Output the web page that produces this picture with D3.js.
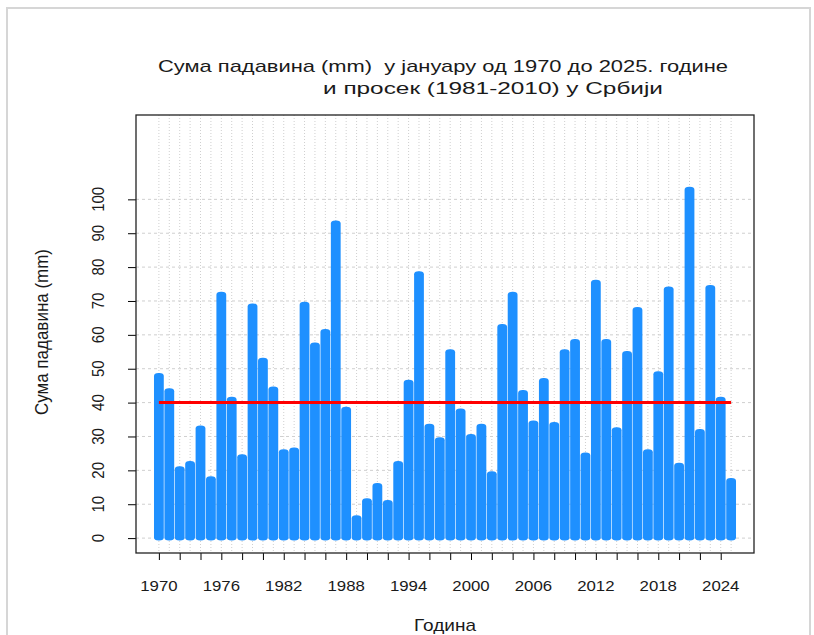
<!DOCTYPE html>
<html>
<head>
<meta charset="utf-8">
<script src="https://cdn.jsdelivr.net/npm/d3@7"></script>
<style>
  body { margin: 0; background: #fff; }
  text { font-family: "Liberation Sans", Arial, sans-serif; fill: #1a1a1a; }
</style>
</head>
<body>
<div id="chart"></div>
<script>
// January precipitation in Serbia, 1970-2025 (mm)
var years = d3.range(1970, 2026);
var precip = [
    48, 43.5, 20.5, 22, 32.5, 17.5, 72, 41, 24, 68.5,
    52.5, 44, 25.5, 26, 69, 57, 61, 93, 38, 6,
    11, 15.5, 10.5, 22, 46, 78, 33, 29, 55, 37.5,
    30, 33, 19, 62.5, 72, 43, 34, 46.5, 33.5, 55,
    58, 24.5, 75.5, 58, 32, 54.5, 67.5, 25.5, 48.5, 73.5,
    21.5, 103, 31.5, 74, 41, 17
];
var average = 40;
var xTicks = d3.range(1970, 2026, 2);
var xLabels = d3.range(1970, 2025, 6);
var yTicks = d3.range(0, 101, 10);

var width = 814,
    height = 635,
    plotLeft = 136,
    plotRight = 754,
    plotTop = 115,
    plotBottom = 553;

var svg = d3.select("#chart")
    .append("svg")
    .attr("width", width)
    .attr("height", height);

// outer frame
svg.append("rect")
    .attr("x", 7)
    .attr("y", 8)
    .attr("width", 803)
    .attr("height", 700)
    .attr("fill", "none")
    .attr("stroke", "#d6d6d6")
    .attr("stroke-width", 2);

var x = d3.scaleLinear().domain([1967.8, 2027.2]).range([plotLeft, plotRight]);
var y = d3.scaleLinear().domain([-4.4, 124.9]).range([plotBottom, plotTop]);

// grid
svg.append("g")
    .selectAll("line")
    .data(years)
    .enter()
    .append("line")
    .attr("x1", function (d) { return x(d); })
    .attr("x2", function (d) { return x(d); })
    .attr("y1", plotTop)
    .attr("y2", plotBottom)
    .attr("stroke", "#cfcfcf")
    .attr("stroke-dasharray", "1,2");

svg.append("g")
    .selectAll("line")
    .data(yTicks)
    .enter()
    .append("line")
    .attr("x1", plotLeft)
    .attr("x2", plotRight)
    .attr("y1", function (d) { return y(d); })
    .attr("y2", function (d) { return y(d); })
    .attr("stroke", "#cfcfcf")
    .attr("stroke-dasharray", "3,3");

// bars (thick lines with rounded ends, like R's type="h")
var barWidth = 9.8;
svg.append("g")
    .selectAll("rect")
    .data(precip)
    .enter()
    .append("rect")
    .attr("x", function (d, i) { return x(years[i]) - barWidth / 2; })
    .attr("y", function (d) { return y(d) - 2.5; })
    .attr("width", barWidth)
    .attr("height", function (d) { return y(0) - y(d) + 5; })
    .attr("rx", 4.5)
    .attr("ry", 3)
    .attr("fill", "#1e90ff");

// average line
svg.append("line")
    .attr("x1", x(1970))
    .attr("x2", x(2025))
    .attr("y1", y(average))
    .attr("y2", y(average))
    .attr("stroke", "#ff0000")
    .attr("stroke-width", 3);

// axes
var xAxis = d3.axisBottom(x).tickValues(xTicks).tickSize(7).tickFormat("");
svg.append("g")
    .attr("transform", "translate(0," + plotBottom + ")")
    .call(xAxis)
    .call(function (g) { g.select(".domain").remove(); });

var yAxis = d3.axisLeft(y).tickValues(yTicks).tickSize(8).tickFormat("");
svg.append("g")
    .attr("transform", "translate(" + plotLeft + ",0)")
    .call(yAxis)
    .call(function (g) { g.select(".domain").remove(); });

svg.append("rect")
    .attr("x", plotLeft)
    .attr("y", plotTop)
    .attr("width", plotRight - plotLeft)
    .attr("height", plotBottom - plotTop)
    .attr("fill", "none")
    .attr("stroke", "#222")
    .attr("stroke-width", 1.3);

svg.append("g")
    .selectAll("text")
    .data(xLabels)
    .enter()
    .append("text")
    .attr("transform", function (d) { return "translate(" + x(d) + ",591) scale(1.12,1)"; })
    .attr("text-anchor", "middle")
    .style("font-size", "15px")
    .text(function (d) { return d; });

svg.append("g")
    .selectAll("text")
    .data(yTicks)
    .enter()
    .append("text")
    .attr("transform", function (d) { return "translate(104," + y(d) + ") scale(1.12,1) rotate(-90)"; })
    .attr("text-anchor", "middle")
    .style("font-size", "15px")
    .text(function (d) { return d; });

// titles
svg.append("text")
    .attr("x", 158)
    .attr("y", 72)
    .attr("textLength", 570)
    .attr("lengthAdjust", "spacingAndGlyphs")
    .style("font-size", "17px")
    .style("white-space", "pre")
    .text("Сума падавина (mm)  у јануару од 1970 до 2025. године");

svg.append("text")
    .attr("x", 323)
    .attr("y", 94)
    .attr("textLength", 340)
    .attr("lengthAdjust", "spacingAndGlyphs")
    .style("font-size", "17px")
    .text("и просек (1981-2010) у Србији");

svg.append("text")
    .attr("transform", "translate(" + (plotLeft + plotRight) / 2 + ",631) scale(1.12,1)")
    .attr("text-anchor", "middle")
    .style("font-size", "17px")
    .text("Година");

svg.append("text")
    .attr("transform", "translate(48,332) scale(1.12,1) rotate(-90)")
    .attr("text-anchor", "middle")
    .style("font-size", "17px")
    .text("Сума падавина (mm)");
</script>
</body>
</html>
